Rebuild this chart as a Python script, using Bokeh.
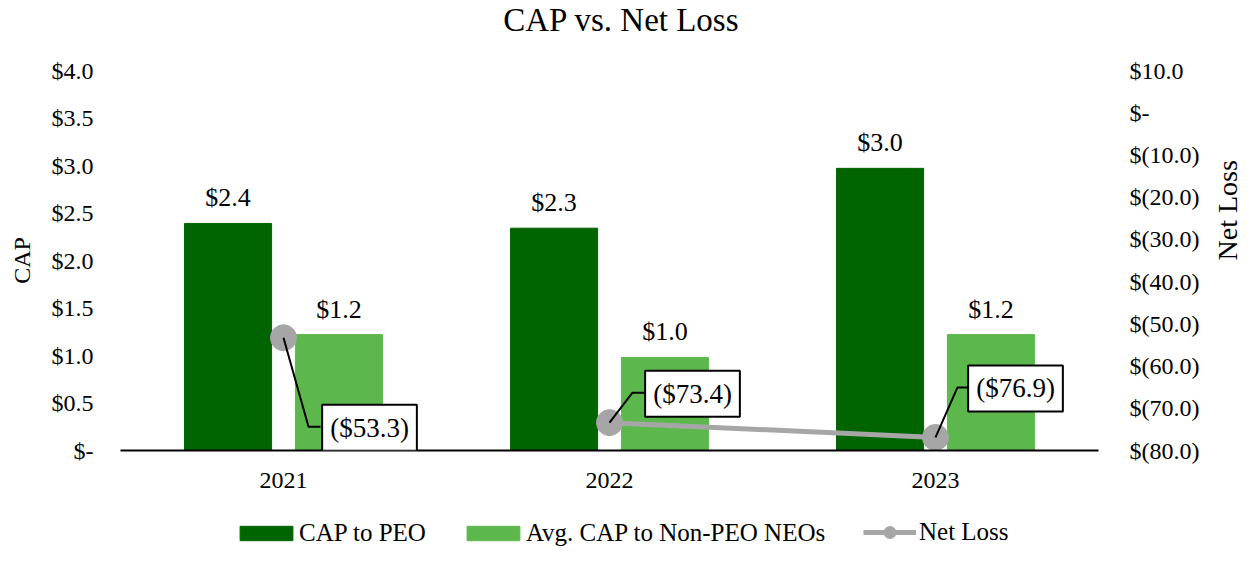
import math
from bokeh.plotting import figure
from bokeh.layouts import column
from bokeh.models import (Range1d, LinearAxis, FixedTicker, Label, LabelSet,
                          ColumnDataSource, Legend, LegendItem)
from bokeh.embed import file_html
from bokeh.resources import INLINE

# ---------------- data ----------------
years = ["2021", "2022", "2023"]
cap_peo = [2.39, 2.34, 2.97]
cap_neo = [1.22, 0.98, 1.22]
net_loss = [-53.3, -73.4, -76.9]
left_ticks = [0, 0.5, 1.0, 1.5, 2.0, 2.5, 3.0, 3.5, 4.0]
right_ticks = [-80, -70, -60, -50, -40, -30, -20, -10, 0, 10]

# ---------------- style / layout ----------------
FONT = "Liberation Serif"
DARK = "#006400"
LIGHT = "#5CB84C"
GREY = "#A6A6A6"
W = 1236
FRAME_W, FRAME_H = 978, 380
TITLE_H, LEG_H = 55, 44
BAR_W = 0.267
BAR_OFF = 0.17
callout_dx = [86, 83, 80]
callout_dy = [-90, 29, 49]
elbow_dx = [25, 23, 22]
elbow_dy = [-89, 30, 50]
end_dx = [37, 35, 34]


def bare(fig):
    fig.grid.visible = False
    fig.outline_line_color = None
    fig.background_fill_color = "white"
    fig.border_fill_color = "white"
    return fig


# ---------------- title strip ----------------
tf = bare(figure(width=W, height=TITLE_H, output_backend="svg", toolbar_location=None,
                 tools="", x_range=Range1d(0, 1), y_range=Range1d(0, 1),
                 x_axis_location=None, y_axis_location=None, min_border=0))
tf.add_layout(Label(x=501, y=36, x_units="screen", y_units="screen",
                    text="CAP vs. Net Loss", text_align="center", text_baseline="middle",
                    text_font=FONT, text_font_size="33px", text_color="black"))

# ---------------- main chart ----------------
p = bare(figure(frame_width=FRAME_W, frame_height=FRAME_H, output_backend="svg",
                toolbar_location=None, tools="",
                x_range=Range1d(-0.5, 2.5), y_range=Range1d(0, 4.0),
                min_border_left=120, min_border_right=10, min_border_top=15,
                min_border_bottom=60))
p.extra_y_ranges = {"loss": Range1d(-80, 10)}

xs = list(range(len(years)))

src = ColumnDataSource(dict(
    x_peo=[x - BAR_OFF for x in xs],
    x_neo=[x + BAR_OFF for x in xs],
    peo=cap_peo, neo=cap_neo,
    peo_txt=[f"${v:.1f}" for v in cap_peo],
    neo_txt=[f"${v:.1f}" for v in cap_neo],
))

r_peo = p.vbar(x="x_peo", top="peo", bottom=0, width=BAR_W, color=DARK, source=src)
r_neo = p.vbar(x="x_neo", top="neo", bottom=0, width=BAR_W, color=LIGHT, source=src)

for xf, yf, tf_ in (("x_peo", "peo", "peo_txt"), ("x_neo", "neo", "neo_txt")):
    p.add_layout(LabelSet(x=xf, y=yf, text=tf_, source=src, text_align="center",
                          text_baseline="alphabetic", y_offset=17,
                          text_font=FONT, text_font_size="26px", text_color="black"))

# Net loss line (drawn only between 2022 and 2023 as in the source chart)
p.line(xs[1:], net_loss[1:], line_color=GREY, line_width=5, y_range_name="loss")
p.scatter(xs, net_loss, size=26, color=GREY, y_range_name="loss")

pxx = FRAME_W / 3.0
pxy = FRAME_H / 90.0
lx, ly = [], []
for i, v in enumerate(net_loss):
    lx.append([xs[i], xs[i] + elbow_dx[i] / pxx, xs[i] + end_dx[i] / pxx])
    yy = v + elbow_dy[i] / pxy
    ly.append([v, yy, yy])
p.multi_line(lx, ly, line_color="black", line_width=2, y_range_name="loss")

for i, v in enumerate(net_loss):
    p.add_layout(Label(x=xs[i], y=v, y_range_name="loss", text=f"(${abs(v):.1f})",
                       x_offset=callout_dx[i], y_offset=callout_dy[i],
                       text_align="center", text_baseline="middle",
                       text_font=FONT, text_font_size="27px", text_color="black",
                       padding=8, border_line_color="black", border_line_width=2,
                       background_fill_color="white"))


def style_axis(ax, size="24px"):
    ax.major_tick_line_color = None
    ax.minor_tick_line_color = None
    ax.major_tick_out = 0
    ax.major_tick_in = 0
    ax.minor_tick_out = 0
    ax.minor_tick_in = 0
    ax.major_label_text_font = FONT
    ax.major_label_text_font_size = size
    ax.major_label_text_color = "black"
    ax.axis_label_text_font = FONT
    ax.axis_label_text_font_style = "normal"
    ax.axis_label_text_color = "black"


xa = p.xaxis[0]
style_axis(xa)
xa.ticker = FixedTicker(ticks=xs)
xa.major_label_overrides = {x: y for x, y in zip(xs, years)}
xa.axis_line_color = "black"
xa.axis_line_width = 2
xa.major_label_standoff = 22

ya = p.yaxis[0]
style_axis(ya)
ya.ticker = FixedTicker(ticks=left_ticks)
ya.major_label_overrides = {t: ("$-" if t == 0 else f"${t:.1f}") for t in left_ticks}
ya.axis_line_color = None
ya.major_label_standoff = 27
ya.axis_label = "CAP"
ya.axis_label_text_font_size = "24px"
ya.axis_label_standoff = 14


def fmt_loss(t):
    if t == 0:
        return "$-"
    if t < 0:
        return f"$({abs(t):.1f})"
    return f"${t:.1f}"


ra = LinearAxis(y_range_name="loss", ticker=FixedTicker(ticks=right_ticks))
style_axis(ra)
ra.major_label_overrides = {t: fmt_loss(t) for t in right_ticks}
ra.axis_line_color = None
ra.major_label_standoff = 31
ra.axis_label = "Net Loss"
ra.axis_label_text_font_size = "28px"
ra.axis_label_standoff = 25
ra.axis_label_orientation = math.pi / 2
p.add_layout(ra, "right")

# ---------------- legend strip ----------------
lf = bare(figure(width=W, height=LEG_H, output_backend="svg", toolbar_location=None,
                 tools="", x_range=Range1d(10, 11), y_range=Range1d(10, 11),
                 x_axis_location=None, y_axis_location=None, min_border=0))
g_peo = lf.vbar(x="x_peo", top="peo", bottom=0, width=BAR_W, color=DARK, source=src)
g_neo = lf.vbar(x="x_neo", top="neo", bottom=0, width=BAR_W, color=LIGHT, source=src)
g_line = lf.line(xs, net_loss, line_color=GREY, line_width=5)
g_pts = lf.scatter(xs, net_loss, size=26, color=GREY)

common = dict(orientation="horizontal", label_text_font=FONT,
              label_text_font_size="25px", label_text_color="black",
              padding=0, margin=0, border_line_color=None, background_fill_alpha=0)
leg_a = Legend(items=[LegendItem(label="CAP to PEO", renderers=[g_peo]),
                      LegendItem(label="Avg. CAP to Non-PEO NEOs", renderers=[g_neo])],
               location=(113, 7), glyph_width=66, glyph_height=18, label_standoff=0,
               spacing=34, **common)
leg_b = Legend(items=[LegendItem(label="Net Loss", renderers=[g_line, g_pts])],
               location=(743, 7), glyph_width=53, glyph_height=30, label_standoff=3,
               **common)
lf.add_layout(leg_a, "center")
lf.add_layout(leg_b, "center")

layout = column(tf, p, lf, spacing=0)
open("out.html", "w").write(file_html(layout, INLINE))
